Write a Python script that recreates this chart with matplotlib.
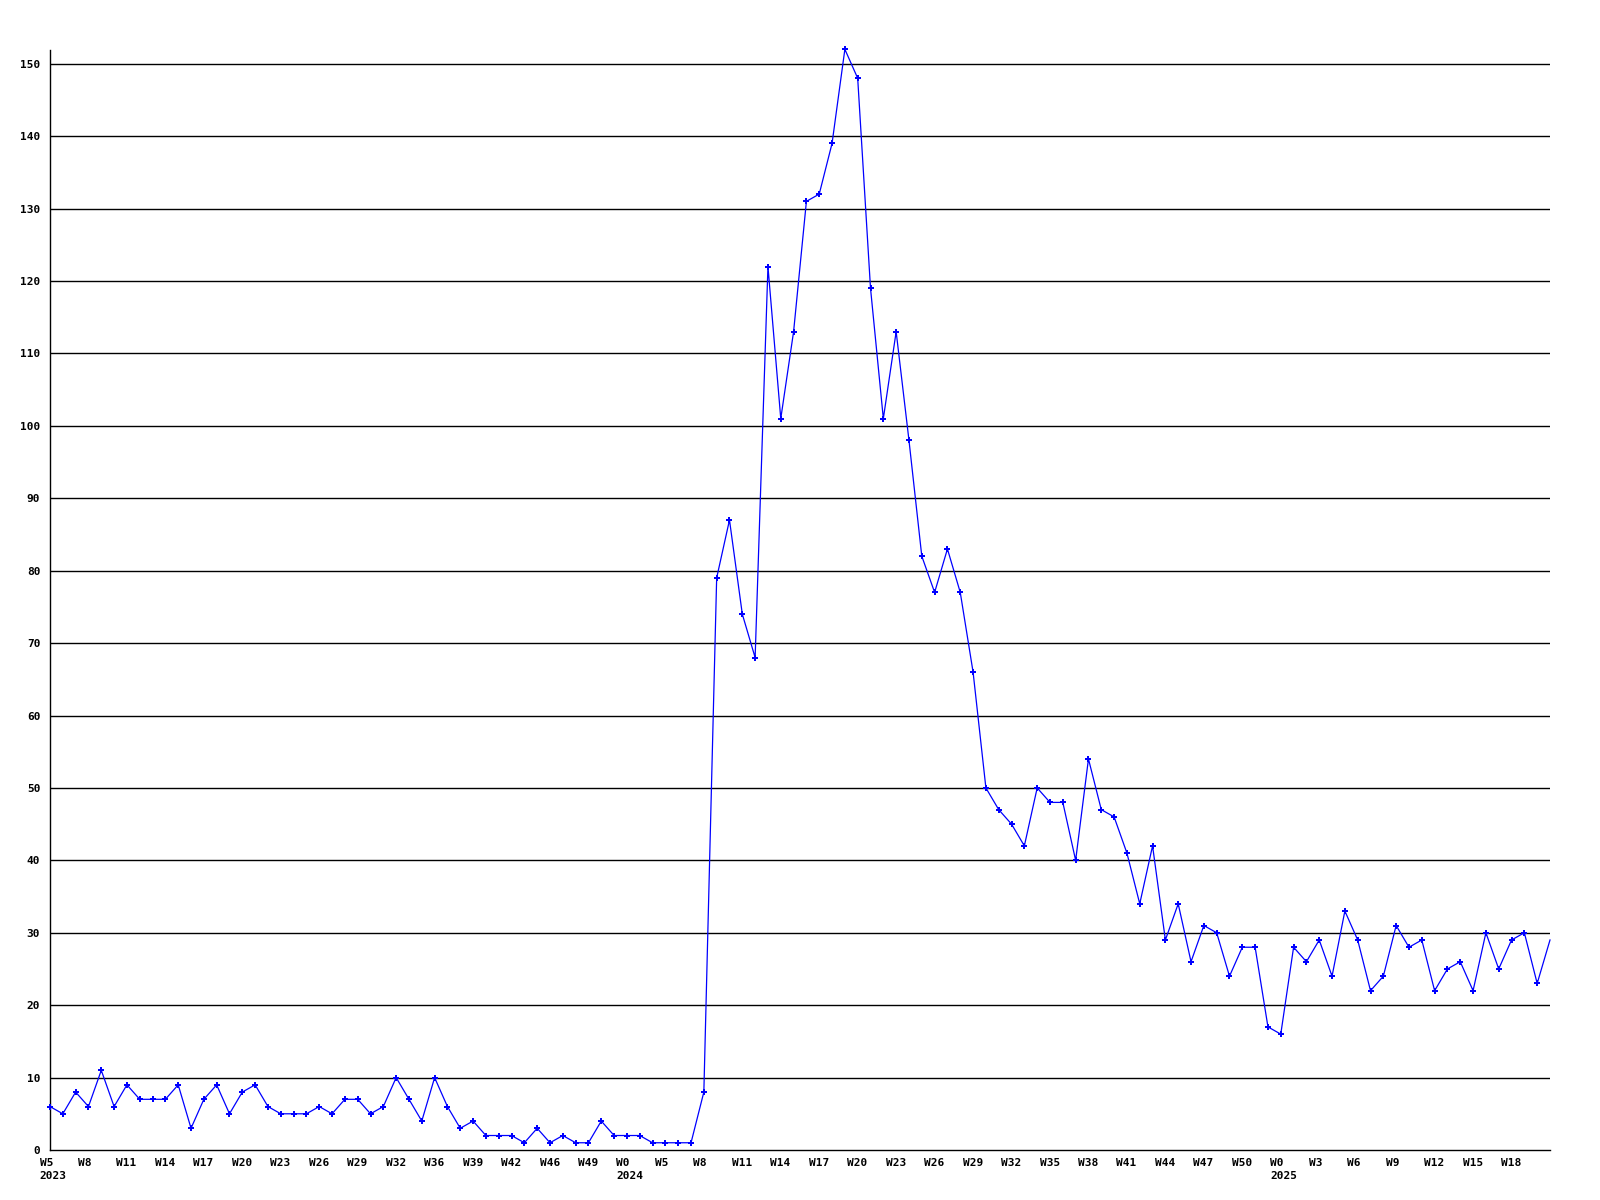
import matplotlib
matplotlib.use("Agg")
import matplotlib.pyplot as plt
from matplotlib.transforms import blended_transform_factory

# weekly counts, starting at W5 2023
values = [6, 5, 8, 6, 11, 6, 9, 7, 7, 7, 9, 3, 7, 9, 5, 8, 9, 6, 5, 5,
          5, 6, 5, 7, 7, 5, 6, 10, 7, 4, 10, 6, 3, 4, 2, 2, 2, 1, 3, 1,
          2, 1, 1, 4, 2, 2, 2, 1, 1, 1, 1, 8, 79, 87, 74, 68, 122, 101, 113, 131,
          132, 139, 152, 148, 119, 101, 113, 98, 82, 77, 83, 77, 66, 50, 47, 45, 42, 50, 48, 48,
          40, 54, 47, 46, 41, 34, 42, 29, 34, 26, 31, 30, 24, 28, 28, 17, 16, 28, 26, 29,
          24, 33, 29, 22, 24, 31, 28, 29, 22, 25, 26, 22, 30, 25, 29, 30, 23, 29]

# one label every 3 points
week_labels = ["W5", "W8", "W11", "W14", "W17", "W20", "W23", "W26", "W29", "W32",
               "W36", "W39", "W42", "W46", "W49", "W0", "W5", "W8", "W11", "W14",
               "W17", "W20", "W23", "W26", "W29", "W32", "W35", "W38", "W41", "W44",
               "W47", "W50", "W0", "W3", "W6", "W9", "W12", "W15", "W18"]
years = {0: "2023", 15: "2024", 32: "2025"}

y_ticks = list(range(0, 151, 10))

plt.rcParams["font.family"] = "DejaVu Sans Mono"

fig = plt.figure(figsize=(16, 12), dpi=100)
ax = fig.add_axes([50 / 1600, 50 / 1200, 1500 / 1600, 1100 / 1200])

x = list(range(len(values)))
ax.plot(x, values, color="#0000ff", lw=0.9, marker="P", ms=4, mew=0,
        markevery=list(range(len(values) - 1)), clip_on=False, zorder=3)

ax.set_xlim(0, len(values) - 1)
ax.set_ylim(0, 151.9)

ax.set_yticks(y_ticks)
ax.set_yticklabels([str(v) for v in y_ticks], fontsize=8, fontweight="bold")
for v in y_ticks[1:]:
    ax.axhline(v, color="black", lw=1, zorder=1)

# x labels: left aligned, starting a bit left of each tick
ax.set_xticks([])
trans = blended_transform_factory(ax.transData, ax.transAxes)
step_px = 1500 / (len(values) - 1)
off = 10.5 / step_px
for i, w in enumerate(week_labels):
    txt = w + ("\n" + years[i] if i in years else "")
    ax.text(3 * i - off, -8 / 1100, txt, transform=trans, fontsize=8,
            fontweight="bold", ha="left", va="top", linespacing=1.4)

ax.tick_params(axis="both", length=0)
ax.tick_params(axis="y", pad=7)

for s in ["top", "right"]:
    ax.spines[s].set_visible(False)
for s in ["left", "bottom"]:
    ax.spines[s].set_linewidth(1)
    ax.spines[s].set_color("black")

fig.savefig("out.png", dpi=100, facecolor="white")
